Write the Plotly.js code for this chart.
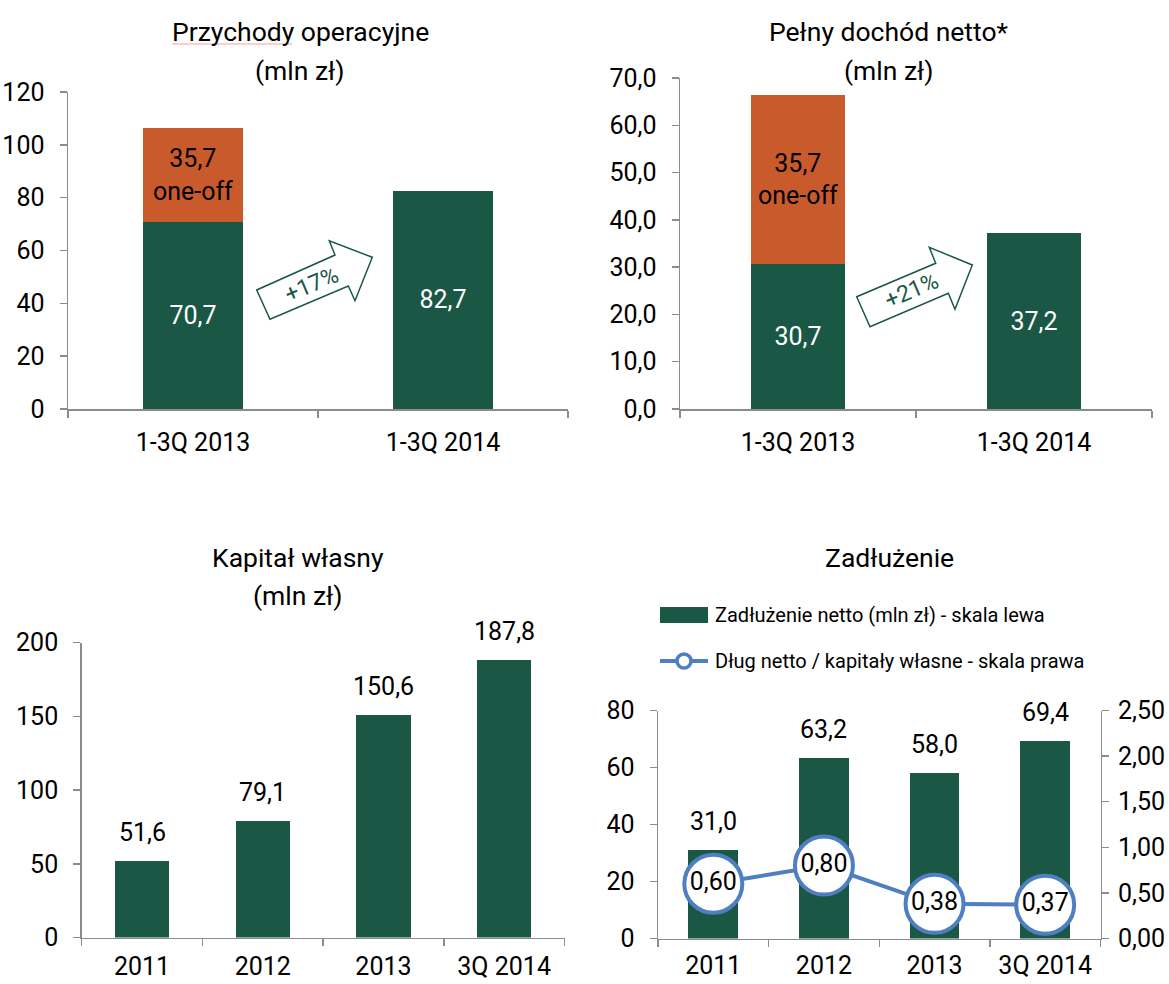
<!DOCTYPE html>
<html>
<head>
<meta charset="utf-8">
<script src="https://cdn.plot.ly/plotly-3.0.1.min.js"></script>
<style>html,body{margin:0;padding:0;background:#fff;}#chart{width:1169px;height:984px;}</style>
</head>
<body>
<div id="chart"></div>
<script>
// ---- data ----
const periods = ['1-3Q 2013', '1-3Q 2014'];
const revenueBase = [70.7, 82.7];
const revenueOneOff = [35.7, null];
const incomeBase = [30.7, 37.2];
const incomeOneOff = [35.7, null];
const years = ['2011', '2012', '2013', '3Q 2014'];
const equity = [51.6, 79.1, 150.6, 187.8];
const netDebt = [31.0, 63.2, 58.0, 69.4];
const debtToEquity = [0.60, 0.80, 0.38, 0.37];
const titles = {
  rev: ['Przychody operacyjne', '(mln zł)'],
  inc: ['Pełny dochód netto*', '(mln zł)'],
  eq: ['Kapitał własny', '(mln zł)'],
  debt: ['Zadłużenie']
};
const legendLabels = ['Zadłużenie netto (mln zł) - skala lewa', 'Dług netto / kapitały własne - skala prawa'];
const growthLabels = ['+17%', '+21%'];

// ---- style ----
const W = 1169, H = 984;
const fx = p => p / W, fy = p => 1 - p / H;
const GREEN = '#1a5745', ORANGE = '#c95a2b', BLUE = '#4f7fc0', AX = '#8c8c8c';
const FONT = 'Roboto, Liberation Sans, sans-serif';
const FS = 25;

function xax(d0, d1, anchor, standoff, n) {
  return {domain: [fx(d0), fx(d1)], anchor: anchor, type: 'category', range: [-0.5, n - 0.5],
    showline: true, linecolor: AX, linewidth: 1.5,
    ticks: 'outside', tickson: 'boundaries', ticklen: 7, tickcolor: AX, tickwidth: 1.5,
    tickfont: {family: FONT, size: FS, color: '#000'}, showgrid: false, zeroline: false, fixedrange: true,
    ticklabelstandoff: standoff};
}
function yax(p0, p1, range, dtick, fmt, anchor) {
  return {domain: [fy(p0), fy(p1)], anchor: anchor, range: range, dtick: dtick, tick0: 0, tickformat: fmt,
    showline: true, linecolor: AX, linewidth: 1.5, ticks: 'outside', ticklen: 7, tickcolor: AX, tickwidth: 1.5,
    tickfont: {family: FONT, size: FS, color: '#000'}, showgrid: false, zeroline: false, fixedrange: true, ticklabelstandoff: 10};
}

const traces = [
  {type: 'bar', x: periods, y: revenueBase, xaxis: 'x', yaxis: 'y', width: 0.4, marker: {color: GREEN},
   texttemplate: '%{y:.1f}', textposition: 'inside', insidetextanchor: 'middle', constraintext: 'none',
   textfont: {family: FONT, size: FS, color: '#fff'}, hoverinfo: 'skip'},
  {type: 'bar', x: periods, y: revenueOneOff, xaxis: 'x', yaxis: 'y', width: 0.4, marker: {color: ORANGE},
   texttemplate: '%{y:.1f}<br>one-off', textposition: 'inside', insidetextanchor: 'middle', constraintext: 'none',
   textfont: {family: FONT, size: FS, color: '#000'}, hoverinfo: 'skip'},
  {type: 'bar', x: periods, y: incomeBase, xaxis: 'x2', yaxis: 'y2', width: 0.4, marker: {color: GREEN},
   texttemplate: '%{y:.1f}', textposition: 'inside', insidetextanchor: 'middle', constraintext: 'none',
   textfont: {family: FONT, size: FS, color: '#fff'}, hoverinfo: 'skip'},
  {type: 'bar', x: periods, y: incomeOneOff, xaxis: 'x2', yaxis: 'y2', width: 0.4, marker: {color: ORANGE},
   texttemplate: '%{y:.1f}<br>one-off', textposition: 'inside', insidetextanchor: 'middle', constraintext: 'none',
   textfont: {family: FONT, size: FS, color: '#000'}, hoverinfo: 'skip'},
  {type: 'bar', x: years, y: equity, xaxis: 'x3', yaxis: 'y3', width: 0.45, marker: {color: GREEN}, hoverinfo: 'skip'},
  {type: 'bar', x: years, y: netDebt, xaxis: 'x4', yaxis: 'y4', width: 0.45, marker: {color: GREEN}, hoverinfo: 'skip'},
  {type: 'scatter', mode: 'lines+markers+text', x: years, y: debtToEquity, xaxis: 'x4', yaxis: 'y5',
   line: {color: BLUE, width: 4}, marker: {size: 58, color: '#fff', line: {color: BLUE, width: 4}},
   texttemplate: '%{y:.2f}', textposition: 'middle center', cliponaxis: false,
   textfont: {family: FONT, size: FS, color: '#000'}, hoverinfo: 'skip'}
];

const layout = {
  width: W, height: H, margin: {l: 0, r: 0, t: 0, b: 0}, paper_bgcolor: '#fff', plot_bgcolor: 'rgba(0,0,0,0)',
  showlegend: false, barmode: 'stack', separators: ', ', font: {family: FONT, size: FS, color: '#000'},
  xaxis: xax(68, 568, 'y', 10, periods.length),
  yaxis: yax(409, 92, [0, 120], 20, 'd', 'x'),
  xaxis2: xax(680, 1152, 'y2', 10, periods.length),
  yaxis2: yax(409, 78, [0, 70], 10, '.1f', 'x2'),
  xaxis3: xax(81.7, 564.5, 'y3', 6, years.length),
  yaxis3: yax(937.5, 642.5, [0, 200], 50, 'd', 'x3'),
  xaxis4: xax(658, 1100.5, 'y4', 4, years.length),
  yaxis4: yax(938.5, 710.5, [0, 80], 20, 'd', 'x4'),
  yaxis5: Object.assign(yax(938.5, 710.5, [0, 2.5], 0.5, '.2f', 'x4'), {overlaying: 'y4', side: 'right', ticklabelstandoff: 4}),
  annotations: [], shapes: []
};

// value labels above bars (data-anchored, category index on x)
function valueLabels(ys, xref, yref) {
  ys.forEach(function (v, i) {
    layout.annotations.push({x: i, y: v, xref: xref, yref: yref, text: v.toFixed(1).replace('.', ','),
      showarrow: false, xanchor: 'center', yanchor: 'bottom', yshift: 12, font: {family: FONT, size: FS, color: '#000'}});
  });
}
valueLabels(equity, 'x3', 'y3');
valueLabels(netDebt, 'x4', 'y4');

function title(text, cx, cy) {
  layout.annotations.push({text: text, x: fx(cx), y: fy(cy), xref: 'paper', yref: 'paper', showarrow: false,
    xanchor: 'center', yanchor: 'middle', font: {family: FONT, size: 26.5, color: '#000'}});
}
title(titles.rev[0], 300, 32); title(titles.rev[1], 300, 70);
title(titles.inc[0], 889, 32); title(titles.inc[1], 889, 70);
title(titles.eq[0], 298, 557); title(titles.eq[1], 298, 595);
title(titles.debt[0], 889, 557);

// spell-check squiggle artifact under "Przychody"
layout.shapes.push({type: 'line', xref: 'paper', yref: 'paper', x0: fx(172), x1: fx(292), y0: fy(44), y1: fy(44),
  line: {color: '#f4a0a0', width: 1.2}});

// growth arrows
function arrow(pts, label, tx, ty) {
  const path = 'M ' + pts.map(p => fx(p[0]) + ',' + fy(p[1])).join(' L ') + ' Z';
  layout.shapes.push({type: 'path', xref: 'paper', yref: 'paper', path: path, fillcolor: '#fff',
    line: {color: GREEN, width: 1.5}});
  layout.annotations.push({text: label, x: fx(tx), y: fy(ty), xref: 'paper', yref: 'paper', showarrow: false,
    textangle: -23, xanchor: 'center', yanchor: 'middle', font: {family: FONT, size: 23, color: GREEN}});
}
arrow([[256.7, 290], [270, 319.3], [348.3, 286], [355, 300.7], [372.3, 257.3], [329.3, 240.7], [335, 255]], growthLabels[0], 312, 285);
arrow([[856.7, 296.7], [870, 326.7], [948.3, 293.3], [955, 309.3], [972.3, 265], [929.3, 247.3], [935.7, 263.3]], growthLabels[1], 912, 291);

// custom legend
layout.shapes.push({type: 'rect', xref: 'paper', yref: 'paper', x0: fx(660), x1: fx(708), y0: fy(607), y1: fy(623),
  fillcolor: GREEN, line: {width: 0}});
layout.shapes.push({type: 'line', xref: 'paper', yref: 'paper', x0: fx(660), x1: fx(708), y0: fy(661), y1: fy(661),
  line: {color: BLUE, width: 4}});
layout.shapes.push({type: 'circle', xref: 'paper', yref: 'paper', x0: fx(677), x1: fx(691), y0: fy(654), y1: fy(668),
  fillcolor: '#fff', line: {color: BLUE, width: 3.5}});
[[legendLabels[0], 615], [legendLabels[1], 661]].forEach(function (l) {
  layout.annotations.push({text: l[0], x: fx(713), y: fy(l[1]), xref: 'paper', yref: 'paper', showarrow: false,
    xanchor: 'left', yanchor: 'middle', font: {family: FONT, size: 20, color: '#000'}});
});

Plotly.newPlot('chart', traces, layout, {staticPlot: true, displayModeBar: false});
</script>
</body>
</html>
